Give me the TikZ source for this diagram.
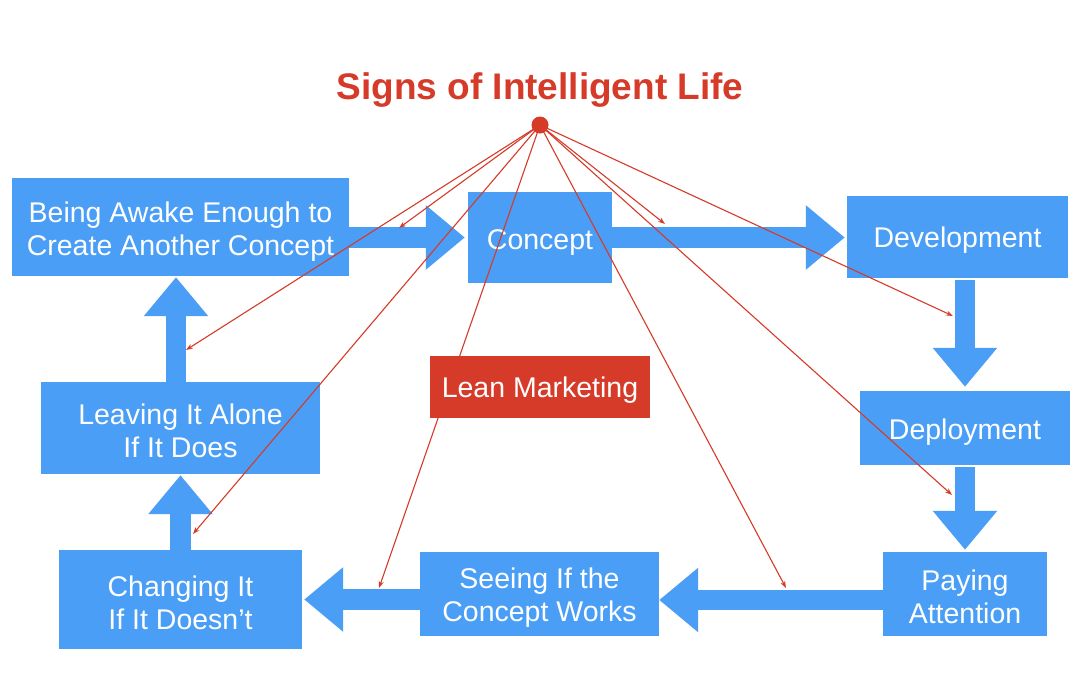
\documentclass[tikz,border=0pt]{standalone}
\usepackage{fontspec}
\setmainfont{Liberation Sans}
\usetikzlibrary{arrows.meta}
\definecolor{kblue}{RGB}{74,158,245}
\definecolor{kred}{RGB}{214,58,40}
\tikzset{
  bluebox/.style={fill=kblue, inner sep=0pt},
  redbox/.style={fill=kred, inner sep=0pt},
  boxtext/.style={text=white, inner sep=0pt, align=center,
    font=\fontsize{28.5}{33}\selectfont},
  blockarrow/.style={draw=kblue, line width=20.5pt,
    -{Triangle[length=39pt,width=62pt]}},
  pointer/.style={draw=kred, line width=1.1pt,
    -{Stealth[length=7pt,width=5pt]}},
}
\begin{document}
\begin{tikzpicture}[x=1pt,y=-1pt]
\useasboundingbox (0,0) rectangle (1080,675);
\fill[white] (0,0) rectangle (1080,675);

% boxes
\node[bluebox, minimum width=337pt, minimum height=98pt] (awake) at (180.5,227) {};
\node[bluebox, minimum width=144pt, minimum height=91pt] (concept) at (540,237.5) {};
\node[bluebox, minimum width=221pt, minimum height=82pt] (dev) at (957.5,237) {};
\node[bluebox, minimum width=210pt, minimum height=74pt] (deploy) at (965,428) {};
\node[bluebox, minimum width=164pt, minimum height=84pt] (paying) at (965,594) {};
\node[bluebox, minimum width=239pt, minimum height=84pt] (seeing) at (539.5,594) {};
\node[bluebox, minimum width=243pt, minimum height=99pt] (changing) at (180.5,599.5) {};
\node[bluebox, minimum width=279pt, minimum height=92pt] (leaving) at (180.5,428) {};

% box texts
\node[boxtext] (awakeT) at ([yshift=-5pt]awake.center) {Being Awake Enough to\\Create Another Concept};
\node[boxtext] (conceptT) at ([yshift=-5pt]concept.center) {Concept};
\node[boxtext] (devT) at ([yshift=-3pt]dev.center) {Development};
\node[boxtext] (deployT) at ([yshift=-4pt]deploy.center) {Deployment};
\node[boxtext] (payingT) at ([yshift=-3pt]paying.center) {Paying\\Attention};
\node[boxtext] (seeingT) at ([yshift=-3.5pt]seeing.center) {Seeing If the\\Concept Works};
\node[boxtext] (changingT) at ([yshift=-3pt]changing.center) {Changing It\\If It Doesn’t};
\node[boxtext] (leavingT) at ([yshift=-2.5pt]leaving.center) {Leaving It Alone\\If It Does};

% block arrows
\draw[blockarrow, shorten >=3pt] (awake.east |- concept.west) -- (concept.west);
\draw[blockarrow, shorten >=2pt] (concept.east) -- (dev.west |- concept.east);
\draw[blockarrow, shorten >=4pt, shorten <=2pt] (deploy.north |- dev.south) -- (deploy.north);
\draw[blockarrow, shorten >=2pt, shorten <=2pt] (deploy.south) -- (paying.north);
\draw[blockarrow] ([yshift=-6pt]paying.west) -- ([yshift=-6pt]seeing.east);
\draw[blockarrow, shorten >=2pt] (seeing.west |- changing.east) -- (changing.east);
\draw[blockarrow, shorten >=1pt] (changing.north) -- (leaving.south);
\draw[blockarrow, shorten >=1pt] ([xshift=-4.5pt]leaving.north) -- ([xshift=-4.5pt]awake.south);

% title and hub
\node[text=kred, font=\fontsize{37}{42}\selectfont\bfseries, anchor=base] (title) at (540,99) {Signs of Intelligent Life};
\coordinate (hub) at (540,125);

% pointer targets
\coordinate (t1) at (399,228);
\coordinate (t2) at (186,350);
\coordinate (t3) at (193,534);
\coordinate (t4) at (379,588);
\coordinate (t5) at (665,224);
\coordinate (t6) at (953,316);
\coordinate (t7) at (952,495);
\coordinate (t8) at (786,588);

\foreach \t in {t1,t2,t3,t4,t5,t6,t7,t8}
  \draw[pointer] (hub) -- (\t);

\node[redbox, minimum width=220pt, minimum height=62pt] (lean) at (540,387) {};
\node[boxtext] (leanT) at ([yshift=-3.5pt]lean.center) {Lean Marketing};
\fill[kred] (hub) circle (8.5pt);
\node[inner sep=0pt] (dot) at (hub) {};
\end{tikzpicture}
\end{document}
